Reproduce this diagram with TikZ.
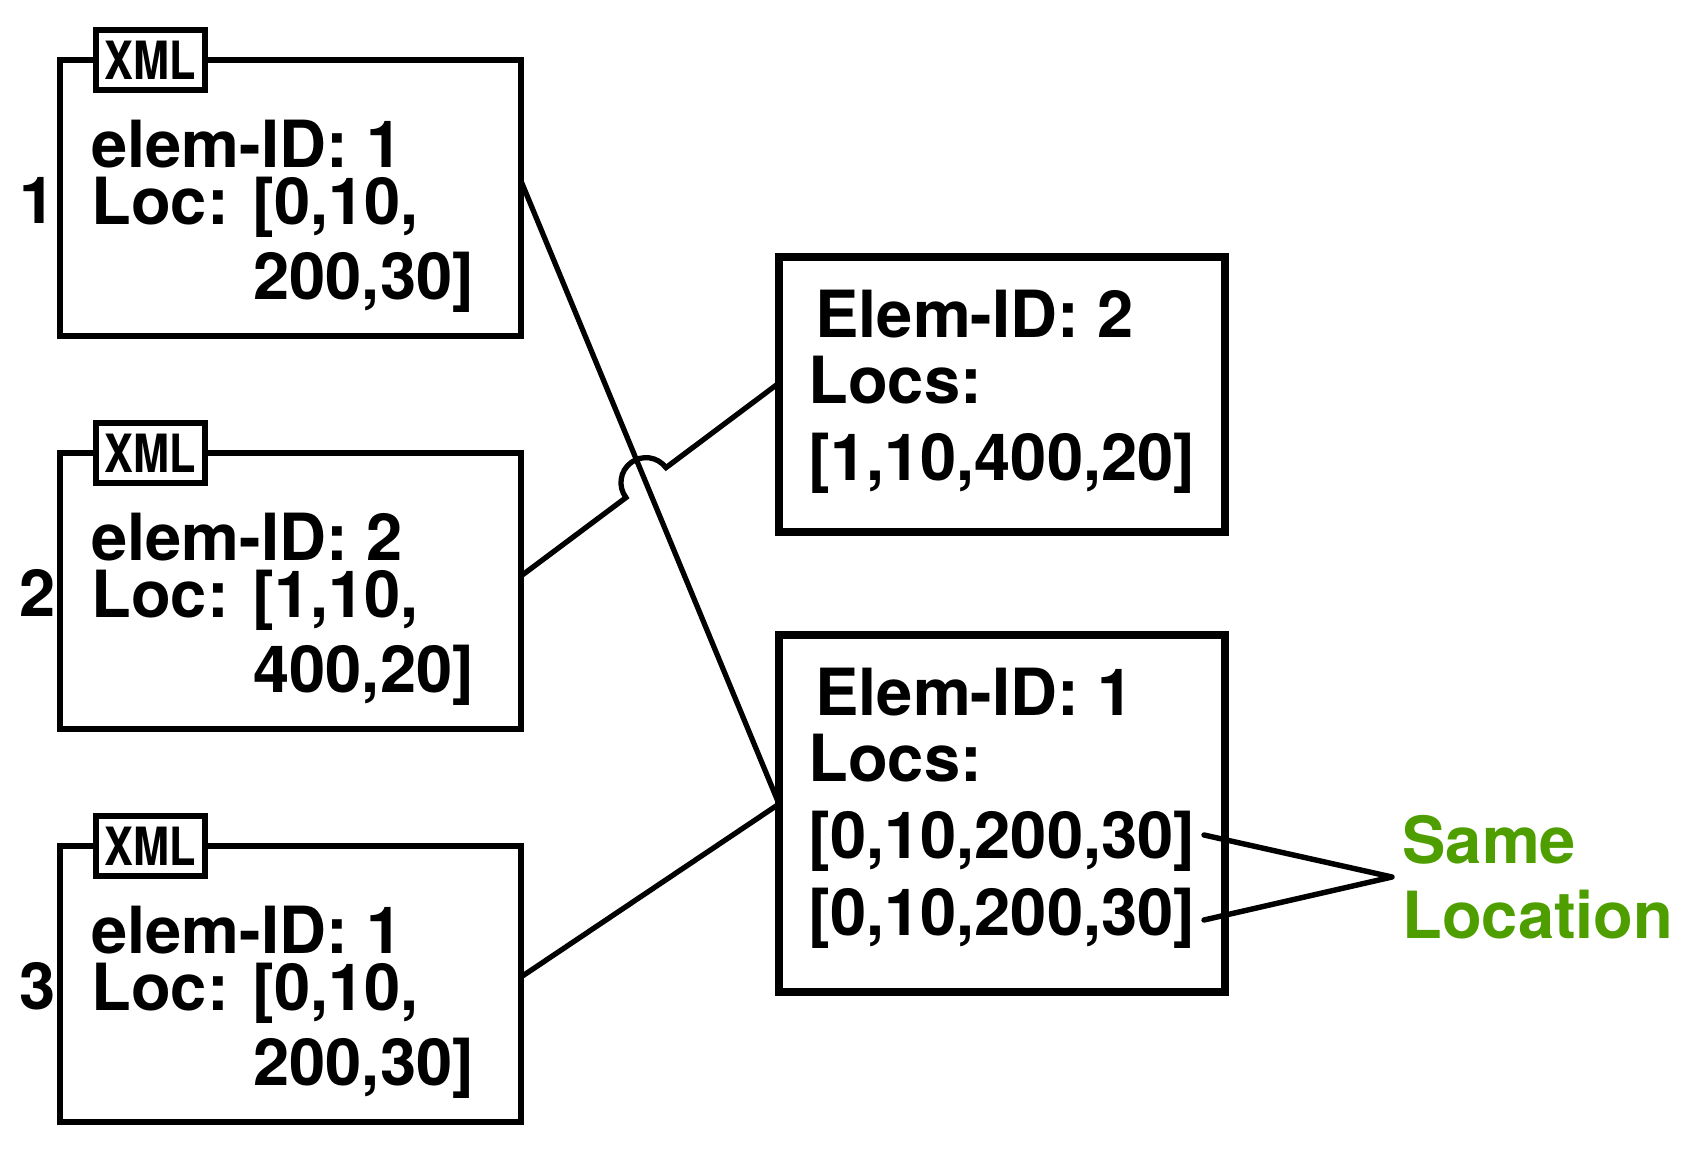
\documentclass[tikz,border=0pt]{standalone}
\usepackage{fontspec}
\setmainfont{TeX Gyre Heros}
\usetikzlibrary{positioning,calc}
\definecolor{samegreen}{RGB}{78,158,0}
\tikzset{
lbox/.style={draw, line width=3.4pt, minimum width=9.22cm, minimum height=5.52cm, inner sep=0pt, outer sep=0pt},
rbox/.style={draw, minimum width=8.92cm, inner sep=0pt, outer sep=0pt},
xmltag/.style={draw, fill=white, line width=3.2pt, minimum width=2.18cm, minimum height=1.19cm, inner sep=0pt, outer sep=0pt, font=\fontsize{30}{32}\selectfont\bfseries},
ltext/.style={inner sep=0pt, outer sep=0pt, align=left, font=\fontsize{37}{42.7}\selectfont\bfseries},
rtext/.style={inner sep=0pt, outer sep=0pt, align=left, font=\fontsize{37}{43.8}\selectfont\bfseries},
num/.style={inner sep=0pt, outer sep=0pt, font=\fontsize{37}{40}\selectfont\bfseries},
samel/.style={text=samegreen, align=left, inner xsep=0.21cm, inner ysep=0pt, outer sep=0pt, font=\fontsize{37}{42.7}\selectfont\bfseries},
link/.style={line width=3pt},
samelink/.style={line width=3.1pt, line cap=round, line join=round},
}
\begin{document}
\begin{tikzpicture}
    \useasboundingbox[fill=white] (0,0) rectangle (33.88,-23.44);

    % input files
    \node[lbox, anchor=north west] (b1) at (1.2,-1.2) {};
    \node[lbox, below=2.34cm of b1] (b2) {};
    \node[lbox, below=2.34cm of b2] (b3) {};

    \node[xmltag] (x1) at ([xshift=1.81cm]b1.north west) {\scalebox{0.82}[1]{XML}};
    \node[xmltag] (x2) at ([xshift=1.81cm]b2.north west) {\scalebox{0.82}[1]{XML}};
    \node[xmltag] (x3) at ([xshift=1.81cm]b3.north west) {\scalebox{0.82}[1]{XML}};

    \node[num, anchor=base east] (n1) at ([shift={(-0.08cm,-3.26cm)}]b1.north west) {1};
    \node[num, anchor=base east] (n2) at ([shift={(-0.08cm,-3.26cm)}]b2.north west) {2};
    \node[num, anchor=base east] (n3) at ([shift={(-0.08cm,-3.26cm)}]b3.north west) {3};

    \node[ltext, below right=1.2cm and 0.63cm of b1.north west] (t1) {elem-ID: 1\\[-10.4pt]Loc: [0,10,\\\hspace*{3.24cm}200,30]};
    \node[ltext, below right=1.2cm and 0.63cm of b2.north west] (t2) {elem-ID: 2\\[-10.4pt]Loc: [1,10,\\\hspace*{3.24cm}400,20]};
    \node[ltext, below right=1.2cm and 0.63cm of b3.north west] (t3) {elem-ID: 1\\[-10.4pt]Loc: [0,10,\\\hspace*{3.24cm}200,30]};

    % merged elements
    \node[rbox, line width=4pt, minimum height=5.5cm, below right=3.94cm and 5.16cm of b1.north east] (bA) {};
    \node[rbox, line width=4.8pt, minimum height=7.14cm, below=2.06cm of bA] (bB) {};

    \node[rtext, below right=0.66cm and 0.59cm of bA.north west] (tA) {\hspace*{0.14cm}Elem-ID: 2\\[-6pt]Locs:\\{[}1,10,400,20]};
    \node[rtext, below right=0.66cm and 0.59cm of bB.north west] (tB) {\hspace*{0.14cm}Elem-ID: 1\\[-6pt]Locs:\\{[}0,10,200,30]\\{[}0,10,200,30]};

    % connectors
    \coordinate (l1s) at ([yshift=0.34cm]b1.east);
    \coordinate (l2s) at ([yshift=0.3cm]b2.east);
    \coordinate (l3s) at ([yshift=0.14cm]b3.east);
    \coordinate (lAe) at ([yshift=0.23cm]bA.west);
    \coordinate (lBe) at ([yshift=0.19cm]bB.west);
    \coordinate (hop) at (intersection of l1s--lBe and l2s--lAe);

    \draw[link] (l1s) -- (lBe);
    \draw[link] (l3s) -- (lBe);
    \draw[link] (l2s) -- ($(hop)!0.5cm!(l2s)$) arc[start angle=216.8, end angle=36.8, radius=0.5cm] -- (lAe);

    % same location
    \node[samel, right=3.34cm of bB.east, yshift=-1.27cm] (sl) {Same\\Location};
    \coordinate (locA) at ([shift={(-0.42cm,-4cm)}]bB.north east);
    \coordinate (locB) at ([shift={(-0.42cm,-5.7cm)}]bB.north east);
    \draw[samelink] (locA) -- (sl.west) -- (locB);

\end{tikzpicture}
\end{document}
